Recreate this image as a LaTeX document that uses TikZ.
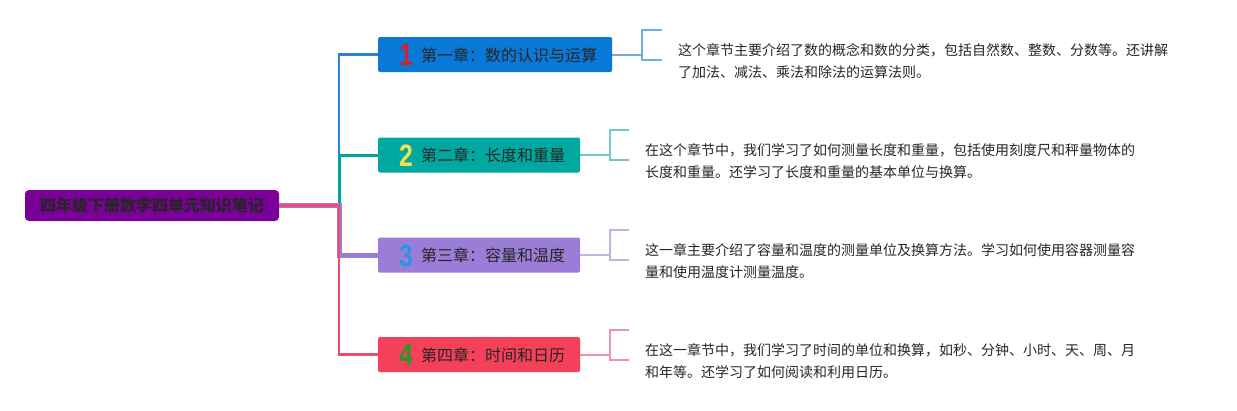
\documentclass[tikz,border=0pt]{standalone}
\usepackage{fontspec}
\setmainfont{Noto Sans CJK SC}
\newfontfamily\numfont{Liberation Sans}
\definecolor{rootc}{RGB}{123,0,153}
\definecolor{boxa}{RGB}{10,120,215}
\definecolor{boxb}{RGB}{0,168,160}
\definecolor{boxc}{RGB}{155,125,215}
\definecolor{boxd}{RGB}{245,64,90}
\definecolor{linea}{RGB}{40,130,220}
\definecolor{lineb}{RGB}{0,162,160}
\definecolor{linec}{RGB}{155,125,215}
\definecolor{lined}{RGB}{238,75,110}
\definecolor{bra}{RGB}{110,175,225}
\definecolor{brb}{RGB}{110,200,200}
\definecolor{brc}{RGB}{190,180,225}
\definecolor{brd}{RGB}{235,150,165}
\definecolor{numa}{RGB}{215,30,45}
\definecolor{numb}{RGB}{245,225,80}
\definecolor{numc}{RGB}{40,150,225}
\definecolor{numd}{RGB}{40,150,40}
\begin{document}
\begin{tikzpicture}[x=1pt,y=-1pt,
  chapbox/.style={minimum height=35pt, inner sep=0pt, rounded corners=1.5pt, draw=none},
  chaptext/.style={anchor=west, inner sep=0pt, font=\fontsize{16}{18}\selectfont, text=black!85},
  numtext/.style={inner sep=0pt, font=\numfont\bfseries\fontsize{31}{31}\selectfont},
  desc/.style={anchor=west, inner sep=0pt, align=left, font=\fontsize{14}{22}\selectfont, text=black!85},
  bracket/.style={line width=1.8pt},
  leafline/.style={line width=2pt}
]
\useasboundingbox (0,0) rectangle (1237,410);

% root
\node[fill=rootc, minimum width=254pt, minimum height=31pt, rounded corners=4pt, inner sep=0pt,
      font=\bfseries\fontsize{16}{18}\selectfont, text=black!85] (root) at (152,205.5) {四年级下册数学四单元知识笔记};

% chapter boxes
\node[chapbox, fill=boxa, minimum width=234pt] (ch1) at (495,54.5) {};
\node[chapbox, fill=boxb, minimum width=202pt] (ch2) at (479,155) {};
\node[chapbox, fill=boxc, minimum width=202pt] (ch3) at (479,255) {};
\node[chapbox, fill=boxd, minimum width=202pt] (ch4) at (479,354.5) {};

\node[numtext, text=numa, xscale=0.8] (n1) at (406,55) {1};
\node[numtext, text=numb, xscale=0.8] (n2) at (406,155.5) {2};
\node[numtext, text=numc, xscale=0.8] (n3) at (406,255.5) {3};
\node[numtext, text=numd, xscale=0.8] (n4) at (406,355) {4};

\node[chaptext] (t1) at (421,55) {第一章：数的认识与运算};
\node[chaptext] (t2) at (421,155.5) {第二章：长度和重量};
\node[chaptext] (t3) at (421,255.5) {第三章：容量和温度};
\node[chaptext] (t4) at (421,355) {第四章：时间和日历};

% trunk connectors
\coordinate (j) at (339,205.5);
\draw[linea, line width=2.5pt] (root.east) -- (j) |- (ch1.west);
\draw[lineb, line width=3pt] (root.east) -- (j) |- (ch2.west);
\draw[linec, line width=5pt] (root.east) -- (j) |- (ch3.west);
\draw[lined, line width=2.5pt] (root.east) -- (j) |- (ch4.west);

% leaf brackets
\coordinate (b1) at (642,54.5);  \coordinate (bt1) at (662,30);  \coordinate (bb1) at (662,60);
\coordinate (b2) at (610,155);   \coordinate (bt2) at (629,130); \coordinate (bb2) at (629,160);
\coordinate (b3) at (610,255);   \coordinate (bt3) at (629,230); \coordinate (bb3) at (629,260);
\coordinate (b4) at (610,354.5); \coordinate (bt4) at (629,330); \coordinate (bb4) at (629,360);

\draw[bra, leafline] (ch1.east) -- (b1);
\draw[bra, bracket] (bt1) -| (b1) |- (bb1);
\draw[brb, leafline] (ch2.east) -- (b2);
\draw[brb, bracket] (bt2) -| (b2) |- (bb2);
\draw[brc, leafline] (ch3.east) -- (b3);
\draw[brc, bracket] (bt3) -| (b3) |- (bb3);
\draw[brd, leafline] (ch4.east) -- (b4);
\draw[brd, bracket] (bt4) -| (b4) |- (bb4);

% descriptions
\node[desc] (d1) at (678,61) {这个章节主要介绍了数的概念和数的分类，包括自然数、整数、分数等。还讲解\\了加法、减法、乘法和除法的运算法则。};
\node[desc] (d2) at (645,161.5) {在这个章节中，我们学习了如何测量长度和重量，包括使用刻度尺和秤量物体的\\长度和重量。还学习了长度和重量的基本单位与换算。};
\node[desc] (d3) at (645,261) {这一章主要介绍了容量和温度的测量单位及换算方法。学习如何使用容器测量容\\量和使用温度计测量温度。};
\node[desc] (d4) at (645,361.5) {在这一章节中，我们学习了时间的单位和换算，如秒、分钟、小时、天、周、月\\和年等。还学习了如何阅读和利用日历。};
\end{tikzpicture}
\end{document}
